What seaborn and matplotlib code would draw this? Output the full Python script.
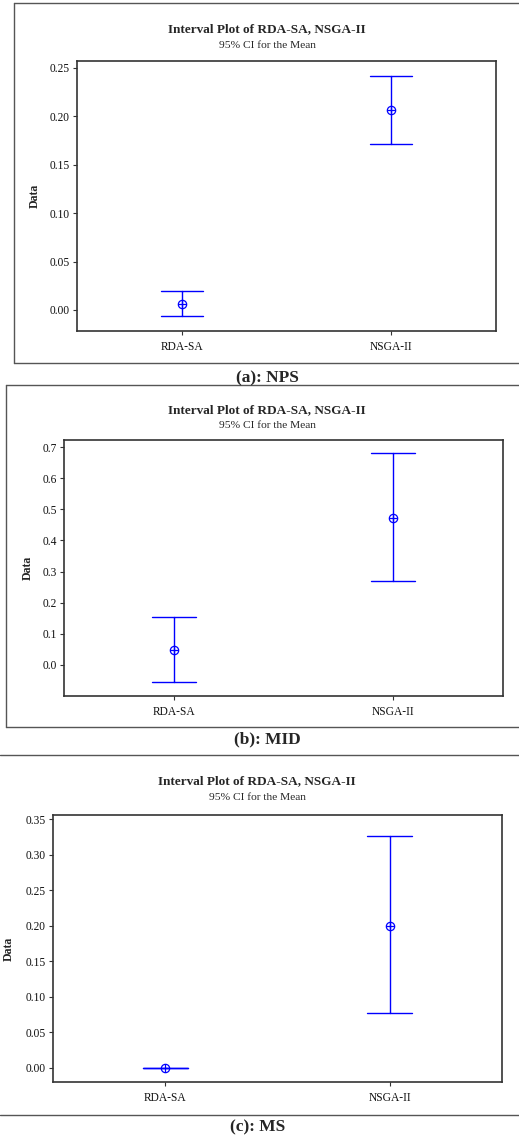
import numpy as np
import pandas as pd
import matplotlib
matplotlib.use("Agg")
import matplotlib.pyplot as plt
from matplotlib.lines import Line2D
import seaborn as sns

# ── Data (mean and 95% CI) ────────────────────────────────────────────────────

methods = ["RDA-SA", "NSGA-II"]

nps_mean  = [0.0065, 0.206]
nps_lower = [-0.0065, 0.171]
nps_upper = [0.0196, 0.242]

mid_mean  = [0.049, 0.471]
mid_lower = [-0.0557, 0.269]
mid_upper = [0.153, 0.680]

ms_mean  = [0.0, 0.200]
ms_lower = [0.0, 0.0766]
ms_upper = [0.0, 0.326]

nps_ticks = [0.00, 0.05, 0.10, 0.15, 0.20, 0.25]
mid_ticks = [0.0, 0.1, 0.2, 0.3, 0.4, 0.5, 0.6, 0.7]
ms_ticks  = [0.00, 0.05, 0.10, 0.15, 0.20, 0.25, 0.30, 0.35]

# ── Style ─────────────────────────────────────────────────────────────────────

sns.set_style("white")
plt.rcParams["font.family"] = ["Liberation Serif", "DejaVu Serif"]

W, H = 519, 1136
fig = plt.figure(figsize=(W / 100, H / 100), dpi=100)
BLUE = "#0000ff"
FRAME = "#555555"


def px(x, y):
    """pixel coords (top-left origin) -> figure fraction"""
    return x / W, 1 - y / H


def axes_rect(left, top, right, bottom):
    return [left / W, 1 - bottom / H, (right - left) / W, (bottom - top) / H]


def interval_plot(ax, means, lower, upper, ticks, fmt, ylim, label_x):
    df = pd.DataFrame({
        "method": methods * 3,
        "value": list(lower) + list(means) + list(upper),
    })
    # CI whiskers: median of (lower, mean, upper) is the mean, range is the CI
    sns.pointplot(data=df, x="method", y="value", order=methods,
                  estimator="median", errorbar=lambda v: (v.min(), v.max()),
                  capsize=0.2, color=BLUE, linestyle="none", marker="",
                  err_kws={"linewidth": 1.0}, ax=ax)
    mdf = pd.DataFrame({"method": methods, "value": means})
    for mk in ["o", "+"]:
        sns.pointplot(data=mdf, x="method", y="value", order=methods,
                      errorbar=None, color=BLUE, linestyle="none", marker=mk,
                      markersize=6.0, markerfacecolor="none",
                      markeredgecolor=BLUE, markeredgewidth=0.9, ax=ax)
    ax.set_xlim(-0.5, 1.5)
    ax.set_ylim(*ylim)
    ax.set_yticks(ticks)
    ax.set_yticklabels([fmt.format(t) for t in ticks])
    ax.set_xlabel("")
    ax.set_ylabel("Data", fontsize=8.5, fontweight="bold")
    ax.yaxis.set_label_coords(label_x, 0.5)
    ax.tick_params(axis="both", direction="out", length=3, width=0.8,
                   colors="#333333", labelcolor="#111111", labelsize=8.3,
                   pad=2, left=True, bottom=True)
    ax.tick_params(axis="x", pad=4)
    for s in ax.spines.values():
        s.set_color("#333333")
        s.set_linewidth(1.2)


def titles(cx, y):
    fig.text(*px(cx, y), "Interval Plot of RDA-SA, NSGA-II", ha="center",
             va="center", fontsize=9.5, fontweight="bold")
    fig.text(*px(cx, y + 16), "95% CI for the Mean", ha="center",
             va="center", fontsize=8.2)


def hline(x0, x1, y):
    (a, b), (c, _) = px(x0, y), px(x1, y)
    fig.add_artist(Line2D([a, c], [b, b], transform=fig.transFigure,
                          color=FRAME, lw=1.0))


def vline(x, y0, y1):
    (a, b), (_, d) = px(x, y0), px(x, y1)
    fig.add_artist(Line2D([a, a], [b, d], transform=fig.transFigure,
                          color=FRAME, lw=1.0))


# ── (a) NPS ───────────────────────────────────────────────────────────────────
ax_a = fig.add_axes(axes_rect(77, 61, 496, 331))
interval_plot(ax_a, nps_mean, nps_lower, nps_upper, nps_ticks, "{:.2f}",
              (-0.0217, 0.257), -0.086)
titles(267, 29)
hline(14, W, 3)
hline(14, W, 363)
vline(14, 3, 363)
fig.text(*px(267, 378), "(a): NPS", ha="center", va="center",
         fontsize=12.5, fontweight="bold")

# ── (b) MID ───────────────────────────────────────────────────────────────────
ax_b = fig.add_axes(axes_rect(64, 440, 503, 696))
interval_plot(ax_b, mid_mean, mid_lower, mid_upper, mid_ticks, "{:.1f}",
              (-0.0996, 0.7225), -0.068)
titles(267, 410)
hline(6, W, 385)
hline(6, W, 727)
vline(6, 385, 727)
fig.text(*px(267, 739), "(b): MID", ha="center", va="center",
         fontsize=12.5, fontweight="bold")
hline(0, W, 755)

# ── (c) MS ────────────────────────────────────────────────────────────────────
ax_c = fig.add_axes(axes_rect(53, 815, 502, 1082))
interval_plot(ax_c, ms_mean, ms_lower, ms_upper, ms_ticks, "{:.2f}",
              (-0.0202, 0.356), -0.085)
titles(257, 781)
hline(0, W, 1115)
fig.text(*px(258, 1127), "(c): MS", ha="center", va="center",
         fontsize=12.5, fontweight="bold")

fig.savefig("out.png", dpi=100)
plt.close(fig)
